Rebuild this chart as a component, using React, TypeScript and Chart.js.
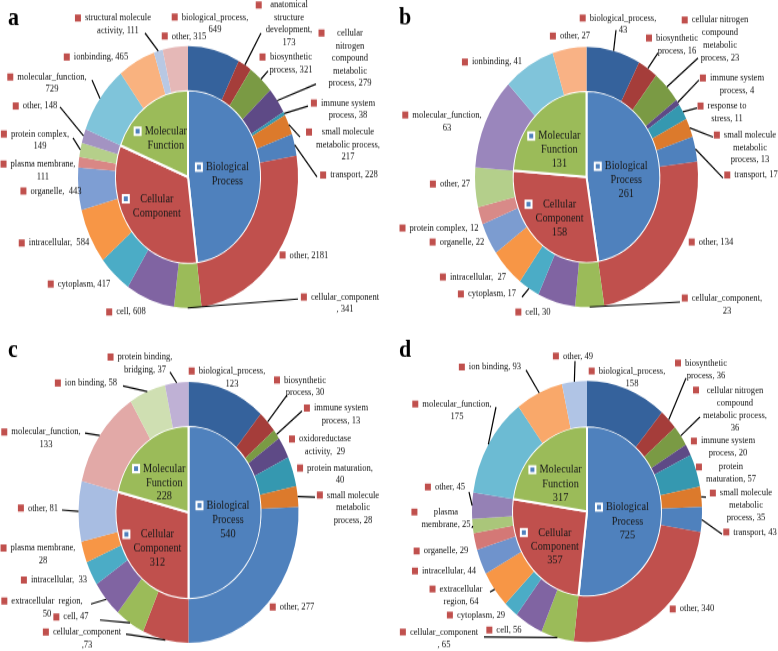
import React, { useEffect, useRef } from 'react';
import { Chart, registerables } from 'chart.js';
Chart.register(...registerables);

const SERIF = "'Liberation Serif', 'Times New Roman', serif";

// ---------- data ----------
const GROUP_NAMES = ['Biological Process', 'Cellular Component', 'Molecular Function'];

const A_CATEGORIES = ['biological_process', 'anatomical structure development', 'biosynthetic process', 'cellular nitrogen compound metabolic process', 'immune system process', 'small molecule metabolic process', 'transport', 'other', 'cellular_component', 'cell', 'cytoplasm', 'intracellular', 'organelle', 'plasma membrane', 'protein complex', 'other', 'molecular_function', 'ionbinding', 'structural molecule activity', 'other'];
const A_VALUES = [649, 173, 321, 279, 38, 217, 228, 2181, 341, 608, 417, 584, 443, 111, 149, 148, 729, 465, 111, 315];
const A_GROUP_VALUES = [4086, 2801, 1620];

const B_CATEGORIES = ['biological_process', 'biosynthetic process', 'cellular nitrogen compound metabolic process', 'immune system process', 'response to stress', 'small molecule metabolic process', 'transport', 'other', 'cellular_component', 'cell', 'cytoplasm', 'intracellular', 'organelle', 'protein complex', 'other', 'molecular_function', 'ionbinding', 'other'];
const B_VALUES = [43, 16, 23, 4, 11, 13, 17, 134, 23, 30, 17, 27, 22, 12, 27, 63, 41, 27];
const B_GROUP_VALUES = [261, 158, 131];

const C_CATEGORIES = ['biological_process', 'biosynthetic process', 'immune system process', 'oxidoreductase activity', 'protein maturation', 'small molecule metabolic process', 'other', 'cellular_component', 'cell', 'extracellular region', 'intracellular', 'plasma membrane', 'other', 'molecular_function', 'ion binding', 'protein binding, bridging'];
const C_VALUES = [123, 30, 13, 29, 40, 28, 277, 73, 47, 50, 33, 28, 81, 133, 58, 37];
const C_GROUP_VALUES = [540, 312, 228];

const D_CATEGORIES = ['biological_process', 'biosynthetic process', 'cellular nitrogen compound metabolic process', 'immune system process', 'protein maturation', 'small molecule metabolic process', 'transport', 'other', 'cellular_component', 'cell', 'cytoplasm', 'extracellular region', 'intracellular', 'organelle', 'plasma membrane', 'other', 'molecular_function', 'ion binding', 'other'];
const D_VALUES = [158, 36, 36, 20, 57, 35, 43, 340, 65, 56, 29, 64, 44, 29, 25, 45, 175, 93, 49];
const D_GROUP_VALUES = [725, 357, 317];

// ---------- styles ----------
const GROUP_COLORS = ['#4F81BD', '#C0504D', '#9BBB59'];
const BASE12 = ['#35629C', '#A53D3A', '#7A9A44', '#5E4A86', '#3598B0', '#DC7A2C', '#4F81BD', '#C0504D', '#9BBB59', '#8064A2', '#4BACC6', '#F79646'];
const PAL_A = [...BASE12, '#7E9ED3', '#D98785', '#B5CF8A', '#A393C2', '#7FC4DA', '#F9B27F', '#B8C8E3', '#E5B8B7'];
const PAL_B = [...BASE12, '#7C9CD0', '#D88A88', '#B4CF8B', '#9A86BC', '#80C4DA', '#F9B285'];
const PAL_C = [...BASE12, '#A8BDE2', '#E2A9A7', '#CFDFB2', '#BFB1D5'];
const PAL_D = [...BASE12, '#6F93CC', '#D47876', '#AAC67A', '#9581B5', '#6CBBD3', '#F9A86A', '#B0C4E5'];

type Lbl = { x: number; y: number; t: string; lead?: [number, number] };

// label layout (page coordinates), '#' is replaced by the value
const A_LABELS: Lbl[] = [
  { x: 215, y: 17, t: 'biological_process,\n#' },
  { x: 289, y: 5, t: 'anatomical\nstructure\ndevelopment,\n#', lead: [261, 33] },
  { x: 291, y: 57, t: 'biosynthetic\nprocess, #', lead: [268, 71] },
  { x: 350, y: 33, t: 'cellular\nnitrogen\ncompound\nmetabolic\nprocess, #', lead: [316, 84] },
  { x: 348, y: 103, t: 'immune system\nprocess, #', lead: [308, 106] },
  { x: 348, y: 132, t: 'small molecule\nmetabolic process,\n#', lead: [300, 137] },
  { x: 354, y: 175, t: 'transport, #', lead: [317, 177] },
  { x: 309, y: 255, t: 'other, #' },
  { x: 345, y: 297, t: 'cellular_component\n, #', lead: [298, 299] },
  { x: 131, y: 312, t: 'cell, #' },
  { x: 84, y: 284, t: 'cytoplasm, #' },
  { x: 59, y: 243, t: 'intracellular,  #' },
  { x: 56, y: 191, t: 'organelle,  #' },
  { x: 43, y: 164, t: 'plasma membrane,\n#' },
  { x: 40, y: 134, t: 'protein complex,\n#', lead: [73, 138] },
  { x: 40, y: 106, t: 'other, #', lead: [60, 107] },
  { x: 52, y: 77, t: 'molecular_function,\n#', lead: [92, 80] },
  { x: 101, y: 57, t: 'ionbinding, #' },
  { x: 118, y: 18, t: 'structural molecule\nactivity, #', lead: [145, 33] },
  { x: 189, y: 36, t: 'other, #' },
];
const B_LABELS: Lbl[] = [
  { x: 623, y: 18, t: 'biological_process,\n#', lead: [616, 30] },
  { x: 677, y: 38, t: 'biosynthetic\nprocess, #', lead: [658, 53] },
  { x: 720, y: 20, t: 'cellular nitrogen\ncompound\nmetabolic\nprocess, #', lead: [698, 58] },
  { x: 737, y: 78, t: 'immune system\nprocess, #', lead: [699, 80] },
  { x: 727, y: 106, t: 'response to\nstress, #', lead: [697, 108] },
  { x: 750, y: 135, t: 'small molecule\nmetabolic\nprocess, #', lead: [713, 137] },
  { x: 756, y: 175, t: 'transport, #', lead: [723, 178] },
  { x: 716, y: 242, t: 'other, #' },
  { x: 727, y: 298, t: 'cellular_component,\n#', lead: [680, 302] },
  { x: 538, y: 312, t: 'cell, #' },
  { x: 492, y: 294, t: 'cytoplasm, #', lead: [522, 297] },
  { x: 478, y: 277, t: 'intracellular,  #' },
  { x: 462, y: 242, t: 'organelle, #' },
  { x: 444, y: 228, t: 'protein complex, #' },
  { x: 455, y: 184, t: 'other, #' },
  { x: 447, y: 115, t: 'molecular_function,\n#' },
  { x: 497, y: 62, t: 'ionbinding, #' },
  { x: 575, y: 36, t: 'other, #' },
];
const C_LABELS: Lbl[] = [
  { x: 232, y: 371, t: 'biological_process,\n#' },
  { x: 305, y: 380, t: 'biosynthetic\nprocess, #', lead: [287, 395] },
  { x: 341, y: 408, t: 'immune system\nprocess, #', lead: [302, 411] },
  { x: 325, y: 439, t: 'oxidoreductase\nactivity,  #' },
  { x: 340, y: 468, t: 'protein maturation,\n#' },
  { x: 353, y: 495, t: 'small molecule\nmetabolic\nprocess, #', lead: [315, 497] },
  { x: 297, y: 607, t: 'other, #' },
  { x: 87, y: 632, t: 'cellular_component\n,#', lead: [126, 634] },
  { x: 76, y: 617, t: 'cell, #', lead: [100, 620] },
  { x: 47, y: 601, t: 'extracellular  region,\n#', lead: [91, 604] },
  { x: 59, y: 580, t: 'intracellular,  #' },
  { x: 43, y: 548, t: 'plasma membrane,\n#' },
  { x: 43, y: 508, t: 'other, #', lead: [62, 510] },
  { x: 46, y: 432, t: 'molecular_function,\n#', lead: [85, 433] },
  { x: 91, y: 383, t: 'ion binding, #', lead: [123, 386] },
  { x: 145, y: 357, t: 'protein binding,\nbridging, #', lead: [170, 372] },
];
const D_LABELS: Lbl[] = [
  { x: 632, y: 371, t: 'biological_process,\n#' },
  { x: 706, y: 363, t: 'biosynthetic\nprocess, #', lead: [686, 378] },
  { x: 735, y: 390, t: 'cellular nitrogen\ncompound\nmetabolic process,\n#', lead: [700, 417] },
  { x: 728, y: 441, t: 'immune system\nprocess, #' },
  { x: 731, y: 467, t: 'protein\nmaturation, #' },
  { x: 746, y: 493, t: 'small molecule\nmetabolic\nprocess, #', lead: [706, 497] },
  { x: 755, y: 532, t: 'transport, #', lead: [722, 534] },
  { x: 697, y: 609, t: 'other, #' },
  { x: 444, y: 632, t: 'cellular_component\n, #', lead: [484, 637] },
  { x: 509, y: 630, t: 'cell, #' },
  { x: 481, y: 615, t: 'cytoplasm, #' },
  { x: 461, y: 589, t: 'extracellular\nregion, #', lead: [490, 592] },
  { x: 449, y: 571, t: 'intracellular, #' },
  { x: 446, y: 551, t: 'organelle, #' },
  { x: 446, y: 512, t: 'plasma\nmembrane, #', lead: [472, 528] },
  { x: 450, y: 487, t: 'other, #', lead: [469, 492] },
  { x: 457, y: 404, t: 'molecular_function,\n#', lead: [496, 407] },
  { x: 495, y: 367, t: 'ion binding, #', lead: [526, 370] },
  { x: 578, y: 356, t: 'other, #', lead: [575, 361] },
];

type Panel = {
  letter: string;
  left: number;
  top: number;
  scale: number;
  center: [number, number];
  r: number;
  innerFrac: number;
  categories: string[];
  values: number[];
  groupValues: number[];
  showGroupValue: boolean;
  palette: string[];
  labels: Lbl[];
  letterPos: [number, number];
};

const PANELS: Panel[] = [
  { letter: 'a', left: 0, top: 0, scale: 1.19, center: [188, 177], r: 110, innerFrac: 0.664, categories: A_CATEGORIES, values: A_VALUES, groupValues: A_GROUP_VALUES, showGroupValue: false, palette: PAL_A, labels: A_LABELS, letterPos: [8, 25] },
  { letter: 'b', left: 389, top: 0, scale: 1.166, center: [586.5, 177], r: 111.5, innerFrac: 0.662, categories: B_CATEGORIES, values: B_VALUES, groupValues: B_GROUP_VALUES, showGroupValue: true, palette: PAL_B, labels: B_LABELS, letterPos: [399, 25] },
  { letter: 'c', left: 0, top: 325, scale: 1.186, center: [188.5, 512.5], r: 110, innerFrac: 0.664, categories: C_CATEGORIES, values: C_VALUES, groupValues: C_GROUP_VALUES, showGroupValue: true, palette: PAL_C, labels: C_LABELS, letterPos: [8, 357] },
  { letter: 'd', left: 389, top: 325, scale: 1.135, center: [587, 511.5], r: 115, innerFrac: 0.652, categories: D_CATEGORIES, values: D_VALUES, groupValues: D_GROUP_VALUES, showGroupValue: true, palette: PAL_D, labels: D_LABELS, letterPos: [399, 357] },
];

const PW = 389;
const PH = 326;

function makeLabelPlugin(p: Panel) {
  return {
    id: 'goLabels_' + p.letter,
    afterDatasetsDraw(chart: any) {
      const ctx: CanvasRenderingContext2D = chart.ctx;
      const S = p.scale;
      const tx = (X: number) => X - p.left;
      const ty = (Y: number) => (Y - p.top) / S;
      ctx.save();

      // panel letter
      ctx.fillStyle = '#000';
      ctx.font = `bold 22px ${SERIF}`;
      ctx.textAlign = 'left';
      ctx.textBaseline = 'alphabetic';
      ctx.fillText(p.letter, tx(p.letterPos[0]), ty(p.letterPos[1]));

      // outer ring labels
      const outer = chart.getDatasetMeta(0).data;
      ctx.font = `8.6px ${SERIF}`;
      ctx.textAlign = 'center';
      ctx.textBaseline = 'middle';
      const lh = 12.5 / S;
      p.labels.forEach((L, i) => {
        const lines = L.t.replace('#', String(p.values[i])).split('\n');
        const w = Math.max(...lines.map((s) => ctx.measureText(s).width));
        const cx = tx(L.x);
        const cy = ty(L.y);
        ctx.fillStyle = '#111';
        lines.forEach((s, k) => ctx.fillText(s, cx, cy + k * lh));
        ctx.fillStyle = '#C0504D';
        ctx.fillRect(cx - w / 2 - 10, cy - 3, 6, 6);
        if (L.lead && outer[i]) {
          const a = outer[i].getProps(['x', 'y', 'startAngle', 'endAngle', 'outerRadius'], true);
          const m = (a.startAngle + a.endAngle) / 2;
          ctx.beginPath();
          ctx.moveTo(tx(L.lead[0]), ty(L.lead[1]));
          ctx.lineTo(a.x + Math.cos(m) * a.outerRadius, a.y + Math.sin(m) * a.outerRadius);
          ctx.strokeStyle = '#000';
          ctx.lineWidth = 1.2;
          ctx.stroke();
        }
      });

      // inner pie labels
      const inner = chart.getDatasetMeta(1).data;
      ctx.font = `10.3px ${SERIF}`;
      const ilh = 14 / S;
      inner.forEach((el: any, i: number) => {
        const a = el.getProps(['x', 'y', 'startAngle', 'endAngle', 'outerRadius'], true);
        const m = (a.startAngle + a.endAngle) / 2;
        const px = a.x + Math.cos(m) * a.outerRadius * 0.54;
        const py = a.y + Math.sin(m) * a.outerRadius * 0.54;
        const lines = GROUP_NAMES[i].split(' ');
        if (p.showGroupValue) lines.push(String(p.groupValues[i]));
        const w = Math.max(...lines.map((s) => ctx.measureText(s).width));
        const y0 = py - ilh / 2;
        ctx.fillStyle = '#1a1a1a';
        lines.forEach((s, k) => ctx.fillText(s, px, y0 + k * ilh));
        const kx = px - w / 2 - 7;
        ctx.fillStyle = '#fff';
        ctx.fillRect(kx - 4, y0 - 4, 8, 8);
        ctx.fillStyle = '#4F81BD';
        ctx.fillRect(kx - 2, y0 - 2, 4, 4);
      });

      ctx.restore();
    },
  };
}

function PiePanel({ p }: { p: Panel }) {
  const ref = useRef<HTMLCanvasElement>(null);
  const H = Math.round(PH / p.scale);
  useEffect(() => {
    const canvas = ref.current;
    if (!canvas) return;
    const ccx = p.center[0] - p.left;
    const ccy = (p.center[1] - p.top) / p.scale;
    const r = p.r;
    const chart = new Chart(canvas, {
      type: 'pie',
      data: {
        labels: p.categories,
        datasets: [
          {
            data: p.values,
            backgroundColor: p.palette,
            borderWidth: 0,
            weight: 1 - p.innerFrac,
          } as any,
          {
            data: p.groupValues,
            backgroundColor: GROUP_COLORS,
            borderColor: '#ffffff',
            borderWidth: 2,
            weight: p.innerFrac,
          } as any,
        ],
      },
      options: {
        responsive: false,
        maintainAspectRatio: false,
        animation: false,
        devicePixelRatio: 1,
        events: [],
        layout: {
          padding: {
            left: ccx - r,
            right: PW - ccx - r,
            top: ccy - r,
            bottom: H - ccy - r,
          },
        },
        plugins: {
          legend: { display: false },
          tooltip: { enabled: false },
        },
      } as any,
      plugins: [makeLabelPlugin(p) as any],
    });
    return () => chart.destroy();
  }, [p, H]);
  return (
    <div
      style={{
        position: 'absolute',
        left: p.left,
        top: p.top,
        width: PW,
        height: H,
        transform: `scaleY(${p.scale})`,
        transformOrigin: '0 0',
      }}
    >
      <canvas ref={ref} width={PW} height={H} style={{ width: PW, height: H, display: 'block' }} />
    </div>
  );
}

export default function App() {
  return (
    <div style={{ position: 'absolute', left: 0, top: 0, width: 778, height: 651, background: '#fff', overflow: 'hidden' }}>
      {PANELS.map((p) => (
        <PiePanel key={p.letter} p={p} />
      ))}
    </div>
  );
}
